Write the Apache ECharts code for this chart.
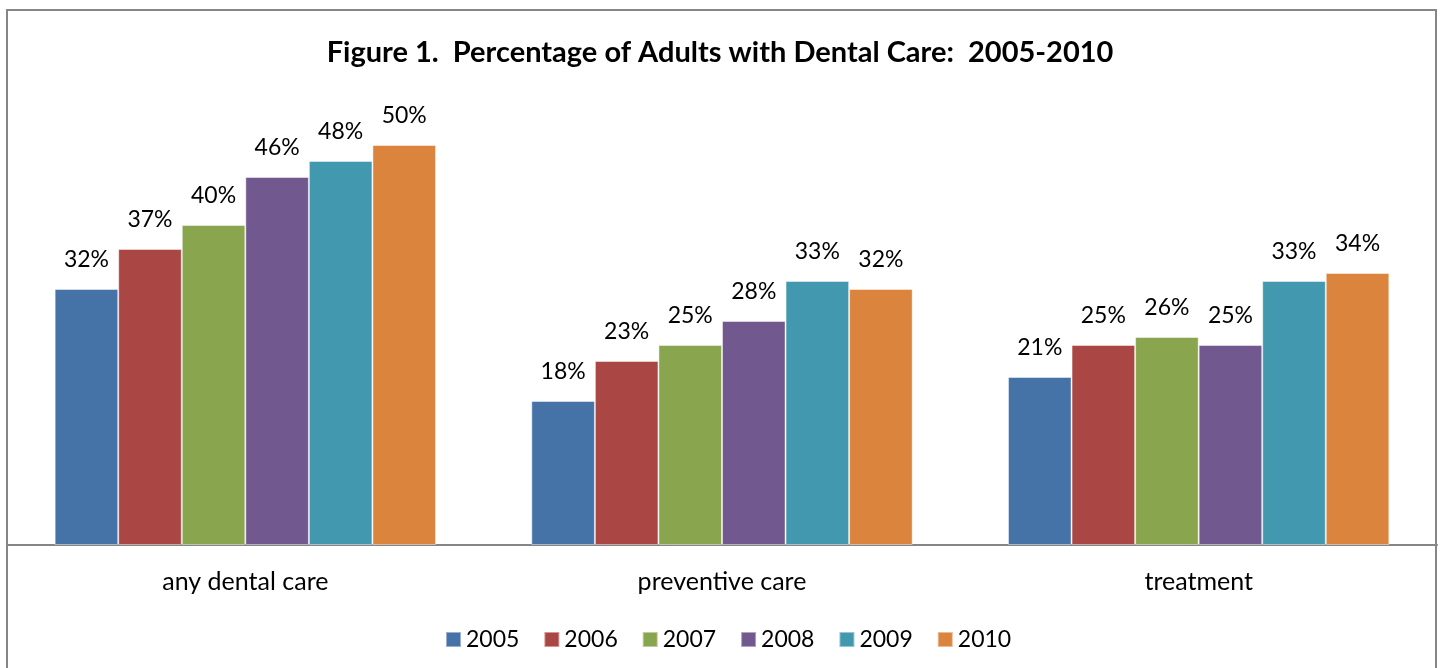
<!DOCTYPE html>
<html>
<head>
<meta charset="utf-8">
<title>Percentage of Adults with Dental Care: 2005-2010</title>
<script src="https://cdn.jsdelivr.net/npm/echarts@6/dist/echarts.min.js"></script>
<style>
  html, body { margin: 0; padding: 0; background: #ffffff; }
  #chart { width: 1440px; height: 668px; }
</style>
</head>
<body>
<div id="chart"></div>
<script>
// Categories, years and percentages of adults with dental care
const categories = ['any dental care', 'preventive care', 'treatment'];
const years = ['2005', '2006', '2007', '2008', '2009', '2010'];
const v2005 = [32, 18, 21];
const v2006 = [37, 23, 25];
const v2007 = [40, 25, 26];
const v2008 = [46, 28, 25];
const v2009 = [48, 33, 33];
const v2010 = [50, 32, 34];
const colors = ['#4572A7', '#AA4643', '#89A54E', '#71588F', '#4198AF', '#DB843D'];

const valuesByYear = [v2005, v2006, v2007, v2008, v2009, v2010];
const FONT = 'Lato';

const chart = echarts.init(document.getElementById('chart'), null, { renderer: 'canvas' });

const series = years.map((year, i) => ({
  name: year,
  type: 'bar',
  data: valuesByYear[i],
  barGap: '0%',
  barCategoryGap: '20%',
  itemStyle: {
    color: colors[i],
    borderColor: 'rgba(255,255,255,0.45)',
    borderWidth: 1
  },
  label: {
    show: true,
    position: 'top',
    distance: 18,
    formatter: '{c}%',
    color: '#000000',
    fontFamily: FONT,
    fontSize: 23
  }
}));

chart.setOption({
  animation: false,
  backgroundColor: '#ffffff',
  color: colors,
  title: {
    text: 'Figure 1.  Percentage of Adults with Dental Care:  2005-2010',
    left: 'center',
    top: 33,
    textStyle: {
      fontFamily: FONT,
      fontWeight: 'bold',
      fontSize: 29,
      color: '#000000'
    }
  },
  legend: {
    data: years,
    left: 445,
    top: 628,
    padding: 0,
    itemWidth: 15,
    itemHeight: 15,
    itemGap: 24,
    icon: 'rect',
    textStyle: {
      fontFamily: FONT,
      fontSize: 23,
      color: '#000000'
    }
  },
  grid: {
    left: 7,
    right: 3,
    top: 65,
    bottom: 123,
    containLabel: false
  },
  xAxis: {
    type: 'category',
    data: categories,
    axisLine: { show: true, lineStyle: { color: '#868686', width: 2 } },
    axisTick: { show: false },
    axisLabel: {
      margin: 24,
      color: '#000000',
      fontFamily: FONT,
      fontSize: 25
    }
  },
  yAxis: {
    type: 'value',
    min: 0,
    max: 60,
    show: false,
    splitLine: { show: false }
  },
  graphic: [{
    type: 'rect',
    shape: { x: 7, y: 10, width: 1429, height: 700 },
    style: { fill: 'none', stroke: '#868686', lineWidth: 2 },
    silent: true,
    z: 10
  }],
  series: series
});
</script>
</body>
</html>
